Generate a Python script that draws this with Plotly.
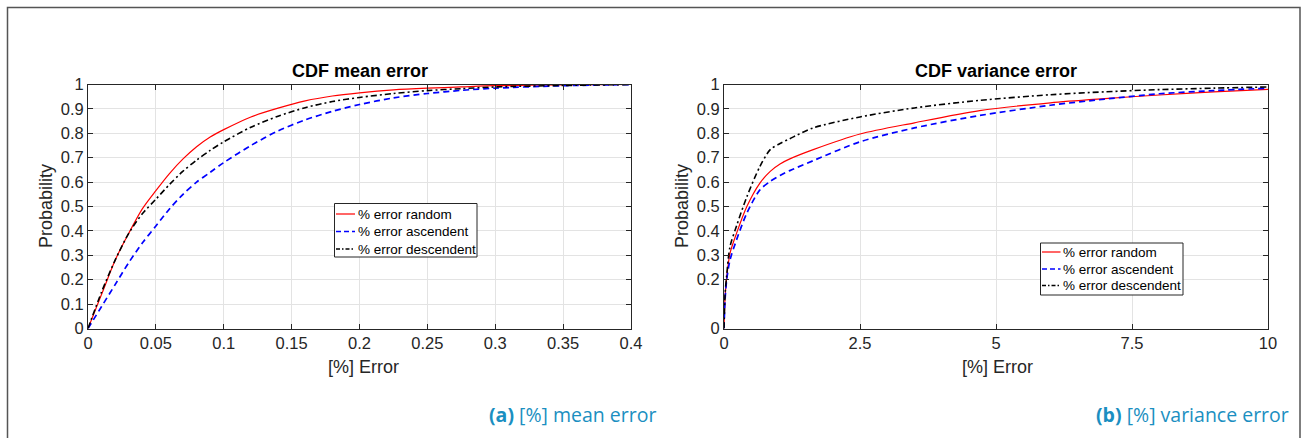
import plotly.graph_objects as go

W, H = 1302, 438

# ---------------- data ----------------
mean_x = [0, 0.01, 0.02, 0.03, 0.04, 0.05, 0.06, 0.07, 0.08, 0.09, 0.1, 0.12, 0.14,
          0.16, 0.18, 0.2, 0.225, 0.25, 0.275, 0.3, 0.35, 0.4]
mean_random = [0, 0.14, 0.28, 0.39, 0.49, 0.565, 0.635, 0.695, 0.745, 0.785, 0.815, 0.867, 0.903,
               0.933, 0.953, 0.966, 0.978, 0.985, 0.99, 0.995, 0.998, 1.0]
mean_ascendent = [0, 0.09, 0.18, 0.27, 0.35, 0.42, 0.49, 0.55, 0.60, 0.64, 0.68, 0.75, 0.81,
                  0.855, 0.89, 0.918, 0.945, 0.963, 0.976, 0.985, 0.995, 1.0]
mean_descendent = [0, 0.15, 0.28, 0.39, 0.47, 0.53, 0.59, 0.645, 0.69, 0.73, 0.765, 0.825, 0.87,
                   0.905, 0.93, 0.947, 0.963, 0.975, 0.983, 0.99, 0.996, 1.0]

var_x = [0, 0.02, 0.05, 0.11, 0.23, 0.42, 0.66, 0.85, 1.03, 1.21, 1.64, 2.5, 3.5, 4.7,
         6, 7, 8, 9, 10]
var_random = [0, 0.13, 0.21, 0.308, 0.39, 0.5, 0.596, 0.644, 0.674, 0.695, 0.733, 0.797,
              0.843, 0.893, 0.925, 0.942, 0.957, 0.97, 0.98]
var_ascendent = [0, 0.12, 0.2, 0.28, 0.363, 0.473, 0.568, 0.603, 0.627, 0.647, 0.688, 0.765,
                 0.822, 0.873, 0.915, 0.94, 0.962, 0.975, 0.985]
var_descendent = [0, 0.14, 0.22, 0.335, 0.42, 0.54, 0.664, 0.733, 0.758, 0.778, 0.822, 0.867,
                  0.904, 0.935, 0.958, 0.97, 0.979, 0.985, 0.99]

series_names = ["% error random", "% error ascendent", "% error descendent"]

mean_xticks = [0, 0.05, 0.1, 0.15, 0.2, 0.25, 0.3, 0.35, 0.4]
mean_xtick_text = ["0", "0.05", "0.1", "0.15", "0.2", "0.25", "0.3", "0.35", "0.4"]
mean_yticks = [0, 0.1, 0.2, 0.3, 0.4, 0.5, 0.6, 0.7, 0.8, 0.9, 1]
mean_ytick_text = ["0", "0.1", "0.2", "0.3", "0.4", "0.5", "0.6", "0.7", "0.8", "0.9", "1"]
var_xticks = [0, 2.5, 5, 7.5, 10]
var_xtick_text = ["0", "2.5", "5", "7.5", "10"]
var_yticks = [0, 0.2, 0.3, 0.4, 0.5, 0.6, 0.7, 0.8, 0.9, 1]
var_ytick_text = ["0", "0.2", "0.3", "0.4", "0.5", "0.6", "0.7", "0.8", "0.9", "1"]

# ---------------- styles ----------------
FONT = "Liberation Sans, Arial, Helvetica, sans-serif"
AXC = "#262626"
styles = [
    dict(color="#ff0000", width=1.2, dash="solid"),
    dict(color="#0000ff", width=1.7, dash="6px,4px"),
    dict(color="#000000", width=1.6, dash="6px,3px,2px,3px"),
]

def px_x(p):
    return p / W

def px_y(p):
    return 1 - p / H

fig = go.Figure()

for ys, name, st in zip([mean_random, mean_ascendent, mean_descendent], series_names, styles):
    fig.add_trace(go.Scatter(x=mean_x, y=ys, mode="lines", name=name, line=st,
                             line_shape="spline", line_smoothing=0.8,
                             xaxis="x", yaxis="y", showlegend=False))
for ys, name, st in zip([var_random, var_ascendent, var_descendent], series_names, styles):
    fig.add_trace(go.Scatter(x=var_x, y=ys, mode="lines", name=name, line=st,
                             line_shape="spline", line_smoothing=0.8,
                             xaxis="x2", yaxis="y2", showlegend=False))

def axis_common():
    return dict(showline=True, linecolor=AXC, linewidth=1, mirror="allticks",
                ticks="inside", ticklen=5, tickcolor=AXC, tickwidth=1, automargin=False,
                showgrid=True, gridcolor="#e3e3e3", gridwidth=1, zeroline=False,
                tickfont=dict(family=FONT, size=16.5, color=AXC))

L0, L1 = 88, 631
R0, R1 = 724, 1268
T, B = 84.5, 328.5

fig.update_layout(
    autosize=True, margin=dict(l=0, r=0, t=0, b=0, autoexpand=False),
    paper_bgcolor="white", plot_bgcolor="white", showlegend=False,
    xaxis=dict(domain=[px_x(L0), px_x(L1)], range=[0, 0.4], tickvals=mean_xticks,
               ticktext=mean_xtick_text, anchor="y", **axis_common()),
    yaxis=dict(domain=[px_y(B), px_y(T)], range=[0, 1], tickvals=mean_yticks,
               ticktext=mean_ytick_text, anchor="x", **axis_common()),
    xaxis2=dict(domain=[px_x(R0), px_x(R1)], range=[0, 10], tickvals=var_xticks,
                ticktext=var_xtick_text, anchor="y2", **axis_common()),
    yaxis2=dict(domain=[px_y(B), px_y(T)], range=[0, 1], tickvals=var_yticks,
                ticktext=var_ytick_text, anchor="x2", **axis_common()),
)

ann = []
shapes = []

def text(x, y, s, size, angle=0, color="#000", family=FONT, xanchor="center"):
    ann.append(dict(x=px_x(x), y=px_y(y), xref="paper", yref="paper", text=s,
                    showarrow=False, xanchor=xanchor, yanchor="middle", textangle=angle,
                    font=dict(family=family, size=size, color=color)))

text((L0 + L1) / 2, 71, "<b>CDF mean error</b>", 18)
text((R0 + R1) / 2, 71, "<b>CDF variance error</b>", 18)
text(364, 367, "[%] Error", 18, color=AXC)
text((R0 + R1) / 2 + 1, 367, "[%] Error", 18, color=AXC)
text(46, 206, "Probability", 18, angle=-90, color=AXC)
text(682, 206, "Probability", 18, angle=-90, color=AXC)
CAP = "#1b8fc1"
CAPFONT = "Open Sans, Noto Sans, sans-serif"
text(658, 414, "<b>(a)</b> [%] mean error", 19.5, color=CAP, family=CAPFONT, xanchor="right")
text(1291, 414, "<b>(b)</b> [%] variance error", 19.5, color=CAP, family=CAPFONT, xanchor="right")

# legends (MATLAB style boxes)
def legend_box(x0, x1, y0, y1, rows_y, line_x0, line_x1, text_x):
    shapes.append(dict(type="rect", xref="paper", yref="paper",
                       x0=px_x(x0), x1=px_x(x1), y0=px_y(y1), y1=px_y(y0),
                       line=dict(color=AXC, width=1), fillcolor="white", layer="above"))
    for ry, name, st in zip(rows_y, series_names, styles):
        shapes.append(dict(type="line", xref="paper", yref="paper",
                           x0=px_x(line_x0), x1=px_x(line_x1), y0=px_y(ry), y1=px_y(ry),
                           line=dict(color=st["color"], width=st["width"],
                                     dash="solid" if st["dash"] == "solid" else
                                     ("5px,3px" if "," in st["dash"] and st["dash"].count(",") == 1
                                      else "4px,2px,1.5px,2px")),
                           layer="above"))
        text(text_x, ry, name, 13.5, color="#000", xanchor="left")

legend_box(334.5, 477, 203.5, 257, [214, 231.5, 249], 336, 355, 355.5)
legend_box(1040.5, 1183, 243, 295, [252, 269, 285.5], 1042, 1060.5, 1061)

fig.update_layout(annotations=ann)

shapes.append(dict(type="rect", xref="paper", yref="paper",
                   x0=px_x(7.5), x1=px_x(1300), y0=px_y(460), y1=px_y(7.5),
                   line=dict(color="#555555", width=1.5), fillcolor="rgba(0,0,0,0)",
                   layer="below"))
fig.update_layout(shapes=shapes)

fig.write_html(
    "out.html",
    config={"displayModeBar": False, "responsive": True},
    default_width="100vw",
    default_height="100vh; position:fixed; left:0; top:0; margin:0",
    post_script="document.body.style.margin='0';document.body.style.overflow='hidden';",
)
